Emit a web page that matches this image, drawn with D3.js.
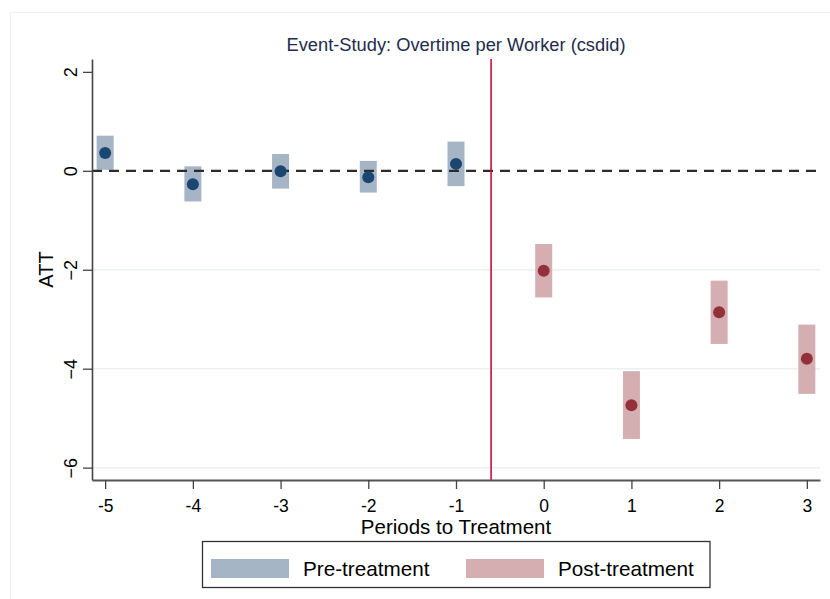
<!DOCTYPE html>
<html>
<head>
<meta charset="utf-8">
<script src="https://cdn.jsdelivr.net/npm/d3@7"></script>
<style>
  html, body { margin: 0; padding: 0; background: #fff; }
  svg { display: block; font-family: "Liberation Sans", Arial, sans-serif; }
</style>
</head>
<body>
<svg id="chart" width="830" height="599"></svg>
<script>
// event-study estimates
const periods = [-5, -4, -3, -2, -1, 0, 1, 2, 3];
const att = [0.36, -0.27, -0.01, -0.13, 0.14, -2.02, -4.74, -2.86, -3.80];
const ciLow = [0.02, -0.62, -0.36, -0.44, -0.31, -2.56, -5.42, -3.50, -4.51];
const ciHigh = [0.71, 0.09, 0.34, 0.20, 0.59, -1.48, -4.05, -2.22, -3.11];
const yTicks = [2, 0, -2, -4, -6];
const gridTicks = [-2, -4, -6];
const treatmentLine = -0.6;
const legendLabels = ["Pre-treatment", "Post-treatment"];

const colors = {
  preBar: "#a5b5c6", preDot: "#1a4671",
  postBar: "#d5aeb2", postDot: "#93303a",
  vline: "#c8103e"
};

const width = 830, height = 599;
const margin = { top: 59, right: 10, bottom: 119, left: 92 };

const svg = d3.select("#chart");

// faint outer frame
svg.append("rect")
  .attr("x", 10.5).attr("y", 12.5)
  .attr("width", 840).attr("height", 600)
  .attr("fill", "none").attr("stroke", "#f0f0f0");

const x = d3.scaleLinear()
  .domain([-5.15, 3.15])
  .range([margin.left, width - margin.right]);

const y = d3.scaleLinear()
  .domain([-6.25, 2.26])
  .range([height - margin.bottom, margin.top]);

const data = periods.map((p, i) => ({
  p: p, est: att[i], lo: ciLow[i], hi: ciHigh[i], pre: p < 0
}));

// gridlines
svg.append("g")
  .selectAll("line")
  .data(gridTicks)
  .join("line")
  .attr("x1", margin.left).attr("x2", width - margin.right)
  .attr("y1", d => y(d)).attr("y2", d => y(d))
  .attr("stroke", "#e9f1f3").attr("stroke-width", 1.5);

// confidence bars
const barW = 17;
svg.append("g")
  .selectAll("rect")
  .data(data)
  .join("rect")
  .attr("x", d => x(d.p) - barW / 2)
  .attr("width", barW)
  .attr("y", d => y(d.hi))
  .attr("height", d => y(d.lo) - y(d.hi))
  .attr("fill", d => d.pre ? colors.preBar : colors.postBar);

// zero reference line
svg.append("line")
  .attr("x1", margin.left).attr("x2", width - margin.right)
  .attr("y1", y(0)).attr("y2", y(0))
  .attr("stroke", "#2b2b2b").attr("stroke-width", 2.2)
  .attr("stroke-dasharray", "10,7");

// treatment line
svg.append("line")
  .attr("x1", x(treatmentLine)).attr("x2", x(treatmentLine))
  .attr("y1", margin.top).attr("y2", height - margin.bottom)
  .attr("stroke", colors.vline).attr("stroke-width", 1.6);

// point estimates
svg.append("g")
  .selectAll("circle")
  .data(data)
  .join("circle")
  .attr("cx", d => x(d.p))
  .attr("cy", d => y(d.est))
  .attr("r", 6)
  .attr("fill", d => d.pre ? colors.preDot : colors.postDot);

// y axis
const yAxis = svg.append("g")
  .attr("transform", "translate(" + margin.left + ",0)")
  .call(d3.axisLeft(y).tickValues(yTicks).tickSize(9).tickSizeOuter(0).tickPadding(0));
yAxis.select(".domain").attr("stroke", "#444").attr("stroke-width", 1.6);
yAxis.selectAll(".tick line").attr("stroke", "#444").attr("stroke-width", 1.3);
yAxis.selectAll(".tick text")
  .attr("x", null).attr("dy", null)
  .attr("transform", "translate(-15,0) rotate(-90)")
  .attr("text-anchor", "middle")
  .attr("fill", "#000")
  .style("font-size", "18px");

// x axis
const xAxis = svg.append("g")
  .attr("transform", "translate(0," + (height - margin.bottom) + ")")
  .call(d3.axisBottom(x).tickValues(periods).tickFormat(d3.format("d")).tickSize(9).tickSizeOuter(0).tickPadding(0));
xAxis.select(".domain").attr("stroke", "#555").attr("stroke-width", 2);
xAxis.selectAll(".tick line").attr("stroke", "#444").attr("stroke-width", 1.3);
xAxis.selectAll(".tick text")
  .attr("y", 32).attr("dy", null)
  .attr("fill", "#000")
  .style("font-size", "17.5px")
  .text(d => d < 0 ? "-" + Math.abs(d) : d);

// axis titles
svg.append("text")
  .attr("x", (margin.left + width - margin.right) / 2)
  .attr("y", 534)
  .attr("text-anchor", "middle")
  .style("font-size", "20.5px")
  .text("Periods to Treatment");

svg.append("text")
  .attr("transform", "translate(53," + ((margin.top + height - margin.bottom) / 2) + ") rotate(-90)")
  .attr("text-anchor", "middle")
  .style("font-size", "20px")
  .text("ATT");

// title
svg.append("text")
  .attr("x", (margin.left + width - margin.right) / 2)
  .attr("y", 51)
  .attr("text-anchor", "middle")
  .attr("fill", "#1e2b4b")
  .style("font-size", "18.3px")
  .text("Event-Study: Overtime per Worker (csdid)");

// legend
const legend = svg.append("g");
legend.append("rect")
  .attr("x", 202.5).attr("y", 541.5)
  .attr("width", 507.5).attr("height", 46)
  .attr("fill", "#fff").attr("stroke", "#333").attr("stroke-width", 1.3);

const legX = [211, 466];
legendLabels.forEach((lab, i) => {
  legend.append("rect")
    .attr("x", legX[i]).attr("y", 559)
    .attr("width", 78).attr("height", 19)
    .attr("fill", i === 0 ? colors.preBar : colors.postBar);
  legend.append("text")
    .attr("x", legX[i] + 92).attr("y", 576)
    .style("font-size", "20.7px")
    .text(lab);
});
</script>
</body>
</html>
